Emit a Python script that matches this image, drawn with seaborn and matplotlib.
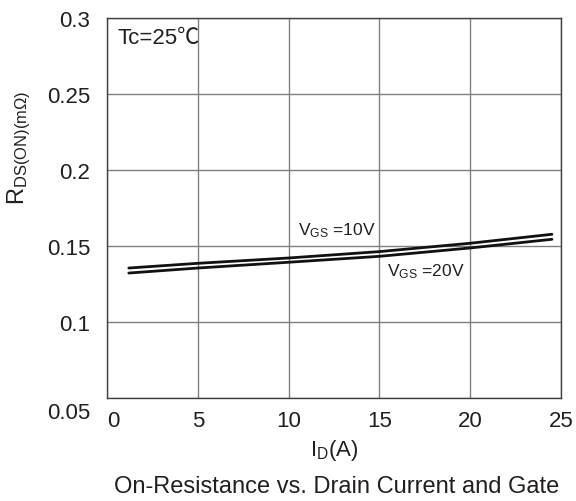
import matplotlib
matplotlib.use("Agg")
import matplotlib.pyplot as plt
import matplotlib.transforms as mtransforms
import seaborn as sns
import pandas as pd

id_a = [1.2, 5, 10, 15, 20, 24.5]
r_vgs10 = [0.1355, 0.1386, 0.1421, 0.1463, 0.1518, 0.1577]
r_vgs20 = [0.1322, 0.1355, 0.1393, 0.1432, 0.1487, 0.1544]
x_ticks = [0, 5, 10, 15, 20, 25]
y_ticks = [0.05, 0.1, 0.15, 0.2, 0.25, 0.3]
y_ticklabels = ["0.05", "0.1", "0.15", "0.2", "0.25", "0.3"]

sns.set_style("white")
plt.rcParams['font.family'] = ['Liberation Sans', 'Noto Sans CJK SC', 'DejaVu Sans']
plt.rcParams['mathtext.fontset'] = 'custom'
plt.rcParams['mathtext.rm'] = 'Liberation Sans'
plt.rcParams['mathtext.it'] = 'Liberation Sans'
plt.rcParams['mathtext.default'] = 'regular'

TXT = "#231f20"

df = pd.DataFrame({
    "ID": id_a + id_a,
    "R": r_vgs10 + r_vgs20,
    "VGS": ["10V"] * len(id_a) + ["20V"] * len(id_a),
})

fig = plt.figure(figsize=(5.76, 5.02), dpi=100)
ax = fig.add_axes([0.1858, 0.2052, 0.7882, 0.757])
sns.lineplot(data=df, x="ID", y="R", units="VGS", estimator=None,
             color="#111111", linewidth=2.0, ax=ax, legend=False)

ax.set_xlim(0, 25)
ax.set_ylim(0.05, 0.3)
ax.set_xticks(x_ticks)
ax.set_yticks(y_ticks)
ax.set_yticklabels(y_ticklabels)
ax.tick_params(axis='x', labelsize=16, length=0, pad=9, colors=TXT)
ax.tick_params(axis='y', labelsize=16, length=0, pad=12, colors=TXT)
ax.grid(True, color="#808080", linewidth=1.0)
for s in ax.spines.values():
    s.set_color("#404040")
    s.set_linewidth(1.0)

# shift first labels as in the reference
fig.canvas.draw()
xl0 = ax.get_xticklabels()[0]
xl0.set_transform(xl0.get_transform() + mtransforms.ScaledTranslation(6/100, 0, fig.dpi_scale_trans))
yl0 = ax.get_yticklabels()[0]
yl0.set_transform(yl0.get_transform() + mtransforms.ScaledTranslation(0, -12/100, fig.dpi_scale_trans))

ax.set_xlabel(r"$I_D$(A)", fontsize=16, color=TXT, labelpad=4)
ax.set_ylabel(r"$R_{DS(ON)(m\Omega)}$", fontsize=17, color=TXT)
ax.yaxis.set_label_coords(-0.163, 0.66)

ax.text(0.6, 0.287, "Tc=25℃", fontsize=16, color=TXT, ha="left", va="center")
ax.text(10.5, 0.1605, r"$V_{GS}$ =10V", fontsize=12.5, color=TXT, ha="left", va="center")
ax.text(15.4, 0.1336, r"$V_{GS}$ =20V", fontsize=12.5, color=TXT, ha="left", va="center")

fig.text(0.585, 0.03, "On-Resistance vs. Drain Current and Gate", fontsize=17,
         color=TXT, ha="center", va="center")

fig.savefig("out.png", dpi=100)
